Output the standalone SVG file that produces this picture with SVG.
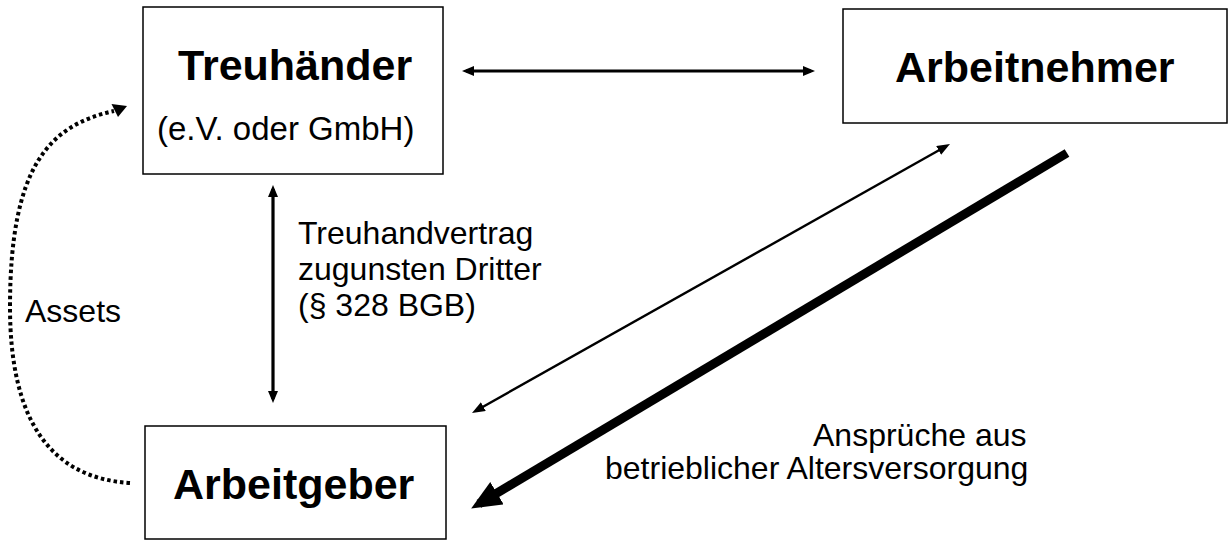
<svg xmlns="http://www.w3.org/2000/svg" width="1229" height="540" viewBox="0 0 1229 540">
  <style>
    .box { fill: #ffffff; stroke: #000000; stroke-width: 1.5; }
    .bold { font-family: "Liberation Sans", Arial, sans-serif; font-weight: bold; font-size: 43px; fill: #000; }
    .reg { font-family: "Liberation Sans", Arial, sans-serif; font-size: 32px; fill: #000; }
    .line { fill: none; stroke: #000; }
  </style>
  <defs>
    <marker id="ah" markerUnits="userSpaceOnUse" markerWidth="14" markerHeight="12" refX="8" refY="5" orient="auto-start-reverse">
      <path d="M0,0 L12,5 L0,10 z" fill="#000"/>
    </marker>
    <marker id="ahThin" markerUnits="userSpaceOnUse" markerWidth="15" markerHeight="11" refX="9" refY="5" orient="auto-start-reverse">
      <path d="M0,0 L13,5 L0,10 z" fill="#000"/>
    </marker>
    <marker id="ahThick" markerUnits="userSpaceOnUse" markerWidth="32" markerHeight="28" refX="21" refY="13" orient="auto">
      <path d="M0,0 L30,13 L0,26 z" fill="#000"/>
    </marker>
  </defs>

  <g id="treuhaender">
    <rect class="box" x="143" y="7" width="300" height="167"/>
    <text class="bold" x="178" y="80">Treuhänder</text>
    <text class="reg" x="157" y="140" style="font-size:33px">(e.V. oder GmbH)</text>
  </g>

  <g id="arbeitnehmer">
    <rect class="box" x="843" y="9" width="384" height="114"/>
    <text class="bold" x="895" y="82">Arbeitnehmer</text>
  </g>

  <g id="arbeitgeber">
    <rect class="box" x="145" y="426" width="301" height="113"/>
    <text class="bold" x="173" y="499">Arbeitgeber</text>
  </g>

  <g id="connectors">
    <line class="line" x1="466" y1="71" x2="811" y2="71" stroke-width="3.2" marker-start="url(#ah)" marker-end="url(#ah)"/>
    <line class="line" x1="273" y1="189" x2="273" y2="399" stroke-width="3.2" marker-start="url(#ah)" marker-end="url(#ah)"/>
    <line class="line" x1="946.5" y1="146" x2="475.5" y2="411" stroke-width="2.4" marker-start="url(#ahThin)" marker-end="url(#ahThin)"/>
    <line class="line" x1="1067" y1="153" x2="478.9" y2="503.9" stroke-width="9" marker-end="url(#ahThick)"/>
    <path class="line" d="M130,483 C50,478 10,420 10,307 C10,165 50,125 114,111" stroke-width="4" stroke-dasharray="3.5 3"/>
    <polygon points="127,106 111.5,104 118,117" fill="#000"/>
  </g>

  <g id="labels">
    <text class="reg" x="298" y="244">Treuhandvertrag</text>
    <text class="reg" x="298" y="280">zugunsten Dritter</text>
    <text class="reg" x="298" y="316">(§ 328 BGB)</text>
    <text class="reg" x="25" y="322">Assets</text>
    <text class="reg" x="813" y="446">Ansprüche aus</text>
    <text class="reg" x="605" y="479">betrieblicher Altersversorgung</text>
  </g>
</svg>
